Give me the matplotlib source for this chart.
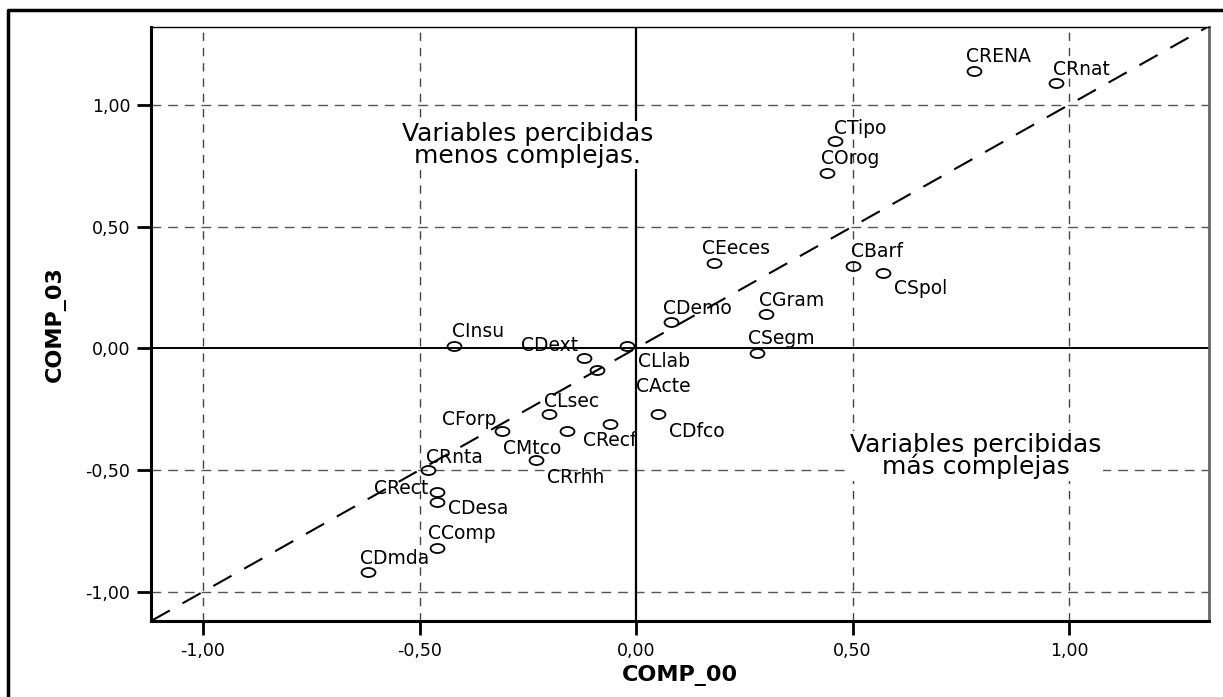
import matplotlib
matplotlib.use("Agg")
import matplotlib.pyplot as plt
from matplotlib.path import Path
from matplotlib.transforms import Affine2D
from matplotlib.lines import Line2D

# data
labels = ["CRENA", "CRnat", "CTipo", "COrog", "CBarf", "CSpol", "CEeces", "CGram",
          "CDemo", "CInsu", "CSegm", "CDext", "CLlab", "CActe", "CLsec", "CForp",
          "CMtco", "CRecf", "CDfco", "CRrhh", "CRnta", "CRect", "CDesa", "CComp", "CDmda"]
comp_00 = [0.78, 0.97, 0.46, 0.44, 0.50, 0.57, 0.18, 0.30,
           0.08, -0.42, 0.28, -0.12, -0.02, -0.09, -0.20, -0.31,
           -0.16, -0.06, 0.05, -0.23, -0.48, -0.46, -0.46, -0.46, -0.62]
comp_03 = [1.14, 1.09, 0.85, 0.72, 0.34, 0.31, 0.35, 0.14,
           0.11, 0.01, -0.02, -0.04, 0.01, -0.09, -0.27, -0.34,
           -0.34, -0.31, -0.27, -0.46, -0.50, -0.59, -0.63, -0.82, -0.92]
ticks = [-1.0, -0.5, 0.0, 0.5, 1.0]
tick_labels = ["-1,00", "-0,50", "0,00", "0,50", "1,00"]

# label placement (pixels from point centre, horizontal alignment)
label_pos = {
    "CRENA": (-8, 14, "left"), "CRnat": (-3, 13, "left"), "CTipo": (-1, 13, "left"),
    "COrog": (-6, 14, "left"), "CBarf": (-2, 14, "left"), "CSpol": (11, -16, "left"),
    "CEeces": (-12, 15, "left"), "CGram": (-7, 14, "left"), "CDemo": (-8, 13, "left"),
    "CInsu": (-2, 14, "left"), "CSegm": (-9, 15, "left"), "CDext": (-6, 13, "right"),
    "CLlab": (11, -16, "left"), "CActe": (39, -16, "left"), "CLsec": (-5, 13, "left"),
    "CForp": (-5, 12, "right"), "CMtco": (-5, -17, "right"), "CRecf": (-27, -17, "left"),
    "CDfco": (11, -17, "left"), "CRrhh": (11, -17, "left"), "CRnta": (-2, 13, "left"),
    "CRect": (-8, 3, "right"), "CDesa": (11, -7, "left"), "CComp": (-9, 14, "left"),
    "CDmda": (-8, 14, "left"),
}

plt.rcParams['font.family'] = ['DejaVu Sans']

fig = plt.figure(figsize=(12.23, 6.97), dpi=100)
ax = fig.add_axes([151 / 1223, 1 - 620.7 / 697, (1209 - 151) / 1223, (620.7 - 27) / 697])

# outer frame (clipped at right and bottom like the original)
fig.add_artist(Line2D([8 / 1223, 8 / 1223, 1.0], [0.0, 1 - 10 / 697, 1 - 10 / 697],
                      transform=fig.transFigure, color="black", lw=2.5))

ax.set_xlim(-1.1201, 1.3233)
ax.set_ylim(-1.1187, 1.3195)

for t in [-1.0, -0.5, 0.5, 1.0]:
    ax.axvline(t, color="#444444", lw=1.0, dashes=(6, 5), zorder=1)
    ax.axhline(t, color="#555555", lw=1.0, dashes=(7, 5), zorder=1)
ax.axvline(0, color="black", lw=1.6, zorder=1)
ax.axhline(0, color="black", lw=1.4, zorder=1)
ax.axline((0, 0), slope=1, color="black", lw=1.5, dashes=(10, 7), zorder=2)

ellipse = Path.unit_circle().transformed(Affine2D().scale(1.0, 0.65))
ax.plot(comp_00, comp_03, linestyle="none", marker=ellipse, markersize=10,
        markerfacecolor="none", markeredgecolor="black", markeredgewidth=1.3, zorder=3)

for name, xv, yv in zip(labels, comp_00, comp_03):
    dx, dy, ha = label_pos[name]
    ax.annotate(name, (xv, yv), xytext=(dx, dy), textcoords="offset pixels",
                ha=ha, va="center", fontsize=13.5, zorder=4)

ax.text(-0.25, 0.835, "Variables percibidas\nmenos complejas.", ha="center", va="center",
        multialignment="center", fontsize=18, linespacing=0.85, zorder=5,
        bbox=dict(facecolor="white", edgecolor="none", pad=1))
ax.text(0.785, -0.442, "Variables percibidas\nmás complejas", ha="center", va="center",
        multialignment="center", fontsize=18, linespacing=0.85, zorder=5,
        bbox=dict(facecolor="white", edgecolor="none", pad=1))

ax.set_xticks(ticks)
ax.set_xticklabels(tick_labels)
ax.set_yticks(ticks)
ax.set_yticklabels(tick_labels)
ax.tick_params(direction="out", length=10, width=2, labelsize=12.5)
ax.tick_params(axis="x", pad=5)
ax.tick_params(axis="y", pad=5)

ax.set_xlabel("COMP_00", fontsize=16, fontweight="bold", labelpad=4)
ax.set_ylabel("COMP_03", fontsize=16, fontweight="bold", labelpad=14)

for side in ["left", "bottom"]:
    ax.spines[side].set_linewidth(2.2)
ax.spines["top"].set_linewidth(1.0)
ax.spines["right"].set_linewidth(2.0)
ax.spines["right"].set_color("#666666")

fig.savefig("out.png", dpi=100)
